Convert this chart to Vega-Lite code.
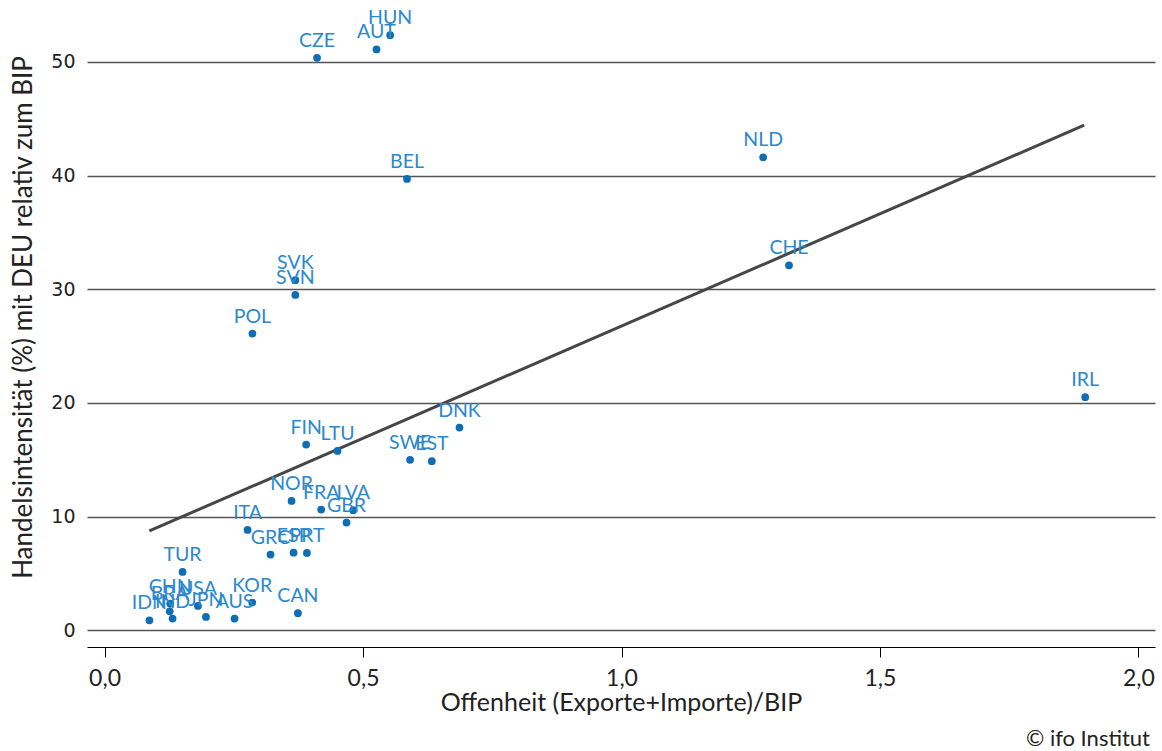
{
  "$schema": "https://vega.github.io/schema/vega-lite/v6.json",
  "width": 1068,
  "height": 642,
  "autosize": {"type": "none"},
  "padding": {"left": 87, "top": 5, "right": 7, "bottom": 104},
  "background": "white",
  "title": {"text": "© ifo Institut", "orient": "bottom", "anchor": "end", "font": "Lato", "fontSize": 22, "fontWeight": "normal", "color": "#222222", "offset": 14, "dx": -5},
  "config": {"view": {"stroke": null}},
  "datasets": {
    "countries": [
      {"land": "HUN", "offen": 0.5525, "intens": 52.35},
      {"land": "AUT", "offen": 0.526, "intens": 51.09},
      {"land": "CZE", "offen": 0.411, "intens": 50.35},
      {"land": "BEL", "offen": 0.585, "intens": 39.7},
      {"land": "NLD", "offen": 1.274, "intens": 41.6},
      {"land": "CHE", "offen": 1.324, "intens": 32.1},
      {"land": "IRL", "offen": 1.897, "intens": 20.5},
      {"land": "SVK", "offen": 0.369, "intens": 30.8},
      {"land": "SVN", "offen": 0.369, "intens": 29.5},
      {"land": "POL", "offen": 0.286, "intens": 26.1},
      {"land": "DNK", "offen": 0.6865, "intens": 17.83},
      {"land": "SWE", "offen": 0.591, "intens": 15.0},
      {"land": "EST", "offen": 0.633, "intens": 14.87},
      {"land": "FIN", "offen": 0.39, "intens": 16.34},
      {"land": "LTU", "offen": 0.4506, "intens": 15.78},
      {"land": "NOR", "offen": 0.3617, "intens": 11.38},
      {"land": "FRA", "offen": 0.419, "intens": 10.62},
      {"land": "LVA", "offen": 0.481, "intens": 10.56},
      {"land": "GBR", "offen": 0.468, "intens": 9.47},
      {"land": "ITA", "offen": 0.2766, "intens": 8.83},
      {"land": "GRC", "offen": 0.321, "intens": 6.66},
      {"land": "ESP", "offen": 0.3656, "intens": 6.83},
      {"land": "PRT", "offen": 0.3914, "intens": 6.8},
      {"land": "TUR", "offen": 0.1508, "intens": 5.13},
      {"land": "CHN", "offen": 0.127, "intens": 2.35},
      {"land": "BRA", "offen": 0.126, "intens": 1.67},
      {"land": "IND", "offen": 0.1315, "intens": 1.03},
      {"land": "IDN", "offen": 0.0867, "intens": 0.88},
      {"land": "USA", "offen": 0.1806, "intens": 2.14},
      {"land": "JPN", "offen": 0.1961, "intens": 1.17},
      {"land": "AUS", "offen": 0.2514, "intens": 1.03},
      {"land": "KOR", "offen": 0.2856, "intens": 2.44},
      {"land": "CAN", "offen": 0.374, "intens": 1.5}
    ],
    "trend": [
      {"offen": 0.0867, "intens": 8.74},
      {"offen": 1.895, "intens": 44.43}
    ]
  },
  "encoding": {
    "x": {
      "field": "offen", "type": "quantitative",
      "scale": {"domain": [-0.034, 2.032], "nice": false, "zero": false},
      "axis": {
        "title": "Offenheit (Exporte+Importe)/BIP",
        "values": [0, 0.5, 1, 1.5, 2],
        "labelExpr": "replace(format(datum.value, '.1f'), '.', ',')",
        "grid": false,
        "domainColor": "#000000", "domainWidth": 1,
        "tickColor": "#000000", "tickWidth": 1, "tickSize": 10,
        "labelFont": "Lato", "labelFontSize": 23, "labelColor": "#222222", "labelPadding": 10,
        "labelFlush": false,
        "titleFont": "Lato", "titleFontSize": 25, "titleFontWeight": "normal", "titleColor": "#222222", "titlePadding": 0
      }
    },
    "y": {
      "field": "intens", "type": "quantitative",
      "scale": {"domain": [-1.47, 55], "nice": false, "zero": false},
      "axis": {
        "title": "Handelsintensität (%) mit DEU relativ zum BIP",
        "values": [0, 10, 20, 30, 40, 50],
        "domain": false, "ticks": false,
        "grid": true, "gridColor": "#555555", "gridWidth": 1.3,
        "labelFont": "DejaVu Sans", "labelFontSize": 19, "labelColor": "#222222", "labelPadding": 12,
        "titleFont": "Lato", "titleFontSize": 26, "titleFontWeight": "normal", "titleColor": "#222222", "titlePadding": 14, "titleY": 312
      }
    }
  },
  "layer": [
    {
      "data": {"name": "trend"},
      "mark": {"type": "line", "color": "#464646", "strokeWidth": 3}
    },
    {
      "data": {"name": "countries"},
      "mark": {"type": "circle", "size": 60, "color": "#0e6eb5", "opacity": 1}
    },
    {
      "data": {"name": "countries"},
      "mark": {"type": "text", "dy": -11, "baseline": "alphabetic", "align": "center", "font": "Lato", "fontSize": 19.5, "color": "#2b88cc"},
      "encoding": {"text": {"field": "land"}}
    }
  ]
}
